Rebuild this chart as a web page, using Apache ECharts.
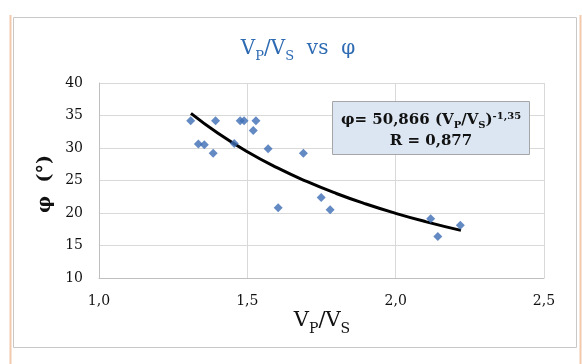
<!DOCTYPE html>
<html><head><meta charset="utf-8">
<script src="https://cdn.jsdelivr.net/npm/echarts@6/dist/echarts.min.js"></script>
<style>html,body{margin:0;padding:0;background:#fff}#c{width:582px;height:364px}</style>
</head><body><div id="c"></div>
<script>
const vpvs = [1.309,1.335,1.355,1.385,1.393,1.456,1.476,1.489,1.529,1.520,1.570,1.689,1.604,1.749,1.779,2.118,2.142,2.218];
const phi  = [34.2,30.6,30.5,29.2,34.2,30.7,34.2,34.2,34.2,32.7,29.9,29.2,20.8,22.4,20.5,19.1,16.4,18.1];
const trendX = [1.31,1.4,1.5,1.6,1.7,1.8,1.9,2.0,2.1,2.22];
const trendY = [35.33,32.30,29.42,26.97,24.85,23.00,21.38,19.95,18.68,17.33];
const xTicks = [1.0,1.5,2.0,2.5];
const yTicks = [10,15,20,25,30,35,40];

const FAM = '"DejaVu Serif"';
const mctx = document.createElement('canvas').getContext('2d');
function measure(t, size, weight){ mctx.font = weight+' '+size+'px '+FAM; return mctx.measureText(t).width; }
// parts: [text, role] role: 'm' main, 'b' subscript, 'p' superscript
function richLine(parts, cx, cy, M, S, weight, color, drop, rise, z){
  const base = cy + 0.34*M;
  const items = parts.map(([t,r])=>{const s = r==='m'?M:S; return {t,r,s,w:measure(t,s,weight)};});
  const total = items.reduce((a,b)=>a+b.w,0);
  let x = cx - total/2;
  const out = [];
  items.forEach(it=>{
    let y;
    if(it.r==='m') y = cy;
    else if(it.r==='b') y = base + drop - 0.34*it.s;
    else y = base - rise - 0.34*it.s;
    out.push({type:'text',x:x,y:y,z:z||5,style:{text:it.t,font:weight+' '+it.s+'px '+FAM,fill:color,align:'left',verticalAlign:'middle'}});
    x += it.w;
  });
  return out;
}

const chart = echarts.init(document.getElementById('c'), null, {renderer:'canvas'});
const graphics = [
  {type:'rect',shape:{x:13.5,y:17.5,width:563,height:330},style:{fill:'none',stroke:'#c8c8c8',lineWidth:1},z:-1},
  {type:'line',shape:{x1:10.5,y1:15,x2:10.5,y2:364},style:{stroke:'#f2c9ad',lineWidth:2}},
  {type:'line',shape:{x1:580.5,y1:15,x2:580.5,y2:364},style:{stroke:'#f2c9ad',lineWidth:2}},
  {type:'text',x:45,y:184,rotation:Math.PI/2,style:{
    text:'φ  (°)',font:'bold 19px '+FAM,fill:'#111',align:'center',verticalAlign:'middle'}},
  {type:'rect',shape:{x:332.5,y:101.5,width:197,height:53},style:{fill:'#dce6f2',stroke:'#a6a6a6',lineWidth:1},z:10},
  {type:'text',x:431,y:141,z:11,style:{
    text:'R = 0,877',font:'bold 15px '+FAM,fill:'#111',align:'center',verticalAlign:'middle'}}
]
.concat(richLine([['V','m'],['P','b'],['/V','m'],['S','b'],['  vs  φ','m']], 298, 49, 20, 13, 'normal', '#2e6bb3', 5, 0, 5))
.concat(richLine([['V','m'],['P','b'],['/V','m'],['S','b']], 322, 321, 21, 14, 'normal', '#111', 6, 0, 5))
.concat(richLine([['φ= 50,866 (V','m'],['P','b'],['/V','m'],['S','b'],[')','m'],['-1,35','p']], 431, 120, 15, 10, 'bold', '#111', 4, 5, 11));

chart.setOption({
  animation:false,
  backgroundColor:'#fff',
  grid:{left:99,right:38,top:83,bottom:86},
  xAxis:{type:'value',min:1.0,max:2.5,interval:0.5,
    axisLine:{show:true,lineStyle:{color:'#bfbfbf'}},axisTick:{show:false},
    splitLine:{show:true,lineStyle:{color:'#d9d9d9'}},
    axisLabel:{margin:16,color:'#111',fontFamily:'DejaVu Serif',fontSize:14,
      formatter:v=>v.toFixed(1).replace('.',',')}},
  yAxis:{type:'value',min:10,max:40,interval:5,
    axisLine:{show:true,lineStyle:{color:'#bfbfbf'}},axisTick:{show:false},
    splitLine:{show:true,lineStyle:{color:'#d9d9d9'}},
    axisLabel:{margin:16,color:'#111',fontFamily:'DejaVu Serif',fontSize:14}},
  series:[
    {type:'scatter',data:vpvs.map((x,i)=>[x,phi[i]]),symbol:'diamond',symbolSize:9,
     itemStyle:{color:'#3d6db5'},z:3},
    {type:'line',data:trendX.map((x,i)=>[x,trendY[i]]),smooth:true,showSymbol:false,
     lineStyle:{color:'#000',width:3},z:2}
  ],
  graphic:graphics
});
</script></body></html>
